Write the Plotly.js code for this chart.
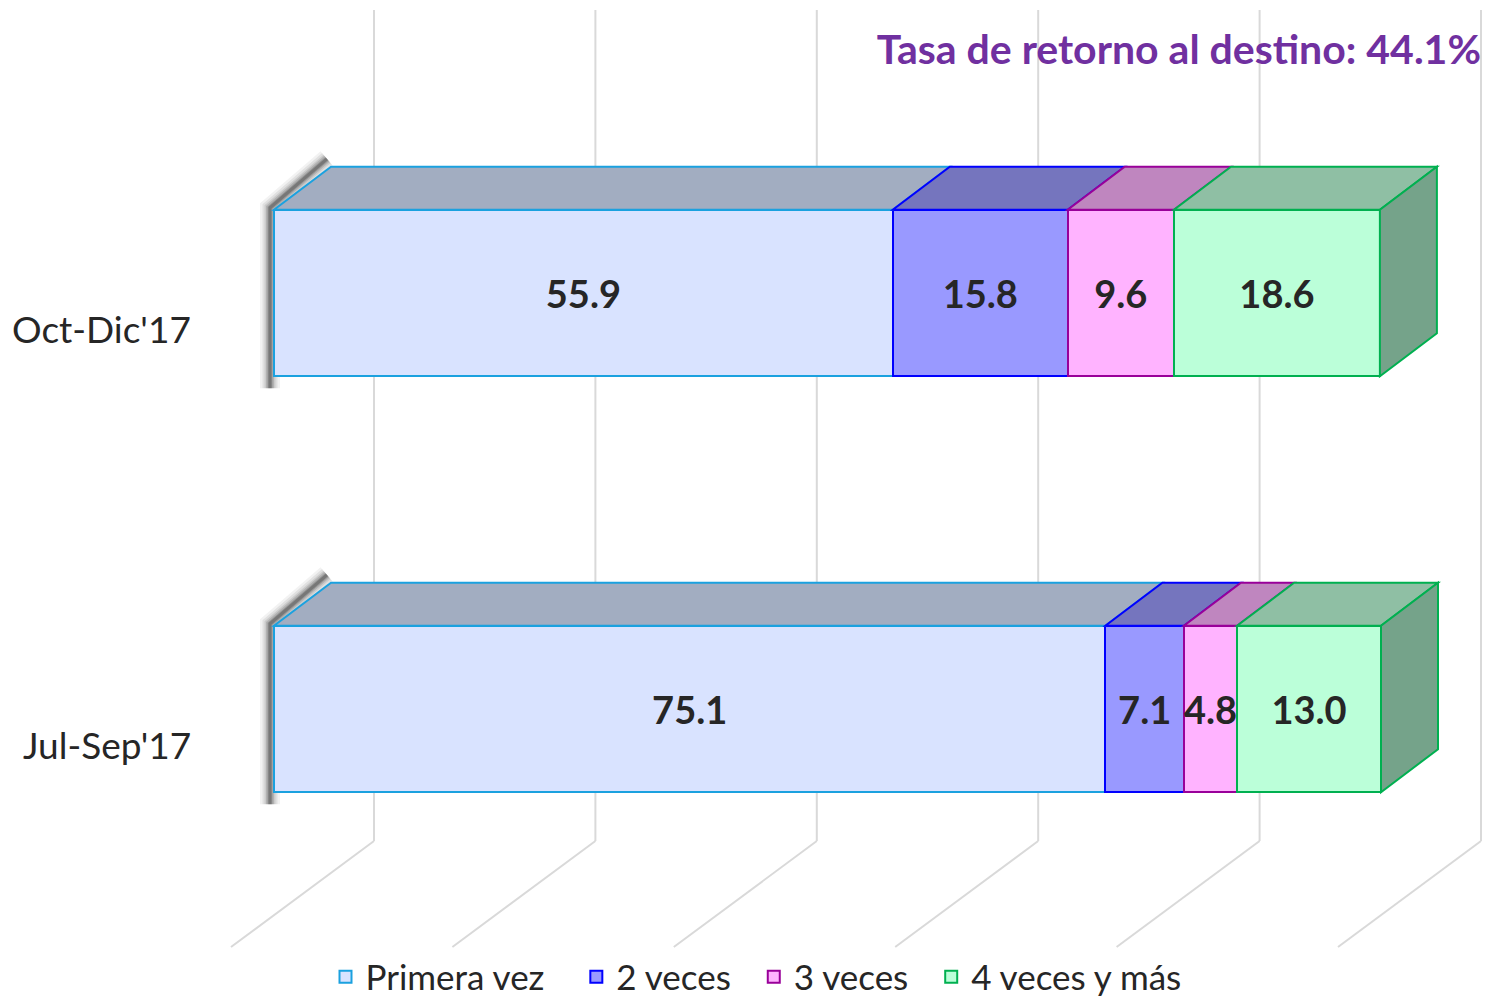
<!DOCTYPE html>
<html>
<head>
<meta charset="utf-8">
<script src="https://cdn.plot.ly/plotly-3.0.1.min.js"></script>
<style>html,body{margin:0;padding:0;background:#fff;overflow:hidden;}#chart{width:1486px;height:998px;}</style>
</head>
<body>
<div id="chart"></div>
<script>
// ---- data ----
const categories = ["Jul-Sep'17", "Oct-Dic'17"];
const seriesNames = ["Primera vez", "2 veces", "3 veces", "4 veces y más"];
const primeraVez = [75.1, 55.9];
const dosVeces = [7.1, 15.8];
const tresVeces = [4.8, 9.6];
const cuatroVeces = [13.0, 18.6];
const xTicks = [0, 20, 40, 60, 80, 100];
const titleText = "Tasa de retorno al destino: 44.1%";

// ---- styles ----
const frontColors = ["#D9E3FF", "#9999FF", "#FFB3FF", "#BBFFD9"];
const edgeColors = ["#1BA1DF", "#0000FF", "#990099", "#00B050"];
const topColors = ["#A2ADC1", "#7575BE", "#BF86BF", "#8FBFA4"];
const sideColor = "#75A38A";
const legendPad = ["\u00A0\u00A0\u00A0", "\u00A0\u00A0", "\u00A0\u00A0", ""];

const W = 1486, H = 998;
const PX_PER_X = 11.07;          // px per unit on the x axis
const X0PX = 274;                // px of value 0
const PX_PER_Y = 416;            // px per category step
const Y0PX = 709;                // px of category index 0 (center)
const xRange = [-X0PX / PX_PER_X, (W - X0PX) / PX_PER_X];
const yRange = [-(H - Y0PX) / PX_PER_Y, Y0PX / PX_PER_Y];
const dxPx = p => p / PX_PER_X;
const dyPx = p => p / PX_PER_Y;
const yOfPx = p => (Y0PX - p) / PX_PER_Y;

const BARW = 0.4;
const DX = dxPx(57), DY = dyPx(43);

const allSeries = [primeraVez, dosVeces, tresVeces, cuatroVeces];
const yIdx = categories.map((c, i) => i);

const traces = allSeries.map((vals, s) => ({
  type: 'bar', orientation: 'h', name: seriesNames[s] + legendPad[s],
  x: vals, y: yIdx,
  marker: {color: frontColors[s], line: {color: edgeColors[s], width: 2}},
  text: vals.map(v => v.toFixed(1)),
  textposition: 'inside', insidetextanchor: 'middle', textangle: 0,
  constraintext: 'none',
  textfont: {family: 'Lato', size: 38, weight: 'bold', color: '#262626'},
  hoverinfo: 'x'
}));

const shapes = [];
// back wall gridlines and floor lines
xTicks.forEach(v => {
  const bx = v + dxPx(100);
  shapes.push({type: 'line', layer: 'below', xref: 'x', yref: 'y',
    x0: bx, x1: bx, y0: yOfPx(841), y1: yOfPx(10), line: {color: '#D9D9D9', width: 2}});
  shapes.push({type: 'line', layer: 'below', xref: 'x', yref: 'y',
    x0: bx, x1: v - dxPx(43), y0: yOfPx(841), y1: yOfPx(947), line: {color: '#D9D9D9', width: 2}});
});

// 3D faces
yIdx.forEach(i => {
  const yt = i + BARW / 2, yb = i - BARW / 2;
  // soft shadow on the left side
  [[20, 0.05], [15, 0.07], [11, 0.09], [8, 0.12], [5, 0.16], [3, 0.2]].forEach(([w, op]) => {
    const o = dxPx(4);
    shapes.push({type: 'path', layer: 'below', xref: 'x', yref: 'y',
      path: `M ${DX - o},${yt + DY + dyPx(8)} L ${-o},${yt + dyPx(2)} L ${-o},${yb - dyPx(12)}`,
      line: {color: `rgba(0,0,0,${op})`, width: w}});
  });
  let acc = 0;
  allSeries.forEach((vals, s) => {
    const a = acc, b = acc + vals[i];
    shapes.push({type: 'path', layer: 'above', xref: 'x', yref: 'y',
      path: `M ${a},${yt} L ${b},${yt} L ${b + DX},${yt + DY} L ${a + DX},${yt + DY} Z`,
      fillcolor: topColors[s], line: {color: edgeColors[s], width: 2}});
    acc = b;
  });
  shapes.push({type: 'path', layer: 'above', xref: 'x', yref: 'y',
    path: `M ${acc},${yt} L ${acc + DX},${yt + DY} L ${acc + DX},${yb + DY} L ${acc},${yb} Z`,
    fillcolor: sideColor, line: {color: edgeColors[3], width: 2}});
});

const annotations = categories.map((c, i) => ({
  text: c, xref: 'paper', yref: 'y', x: 193 / W, y: i - dyPx(35),
  xanchor: 'right', yanchor: 'middle', showarrow: false,
  font: {family: 'Lato', size: 37, color: '#262626'}
}));

const layout = {
  width: W, height: H,
  margin: {l: 0, r: 0, t: 0, b: 0, autoexpand: false},
  paper_bgcolor: '#fff', plot_bgcolor: '#fff',
  barmode: 'stack', bargap: 1 - BARW,
  showlegend: true,
  title: {text: titleText, x: 1481 / W, xanchor: 'right', xref: 'paper',
    y: 1 - 50 / H, yanchor: 'middle', yref: 'paper',
    font: {family: 'Lato', size: 41, weight: 'bold', color: '#7030A0'}},
  xaxis: {range: xRange, visible: false, fixedrange: true},
  yaxis: {range: yRange, visible: false, fixedrange: true},
  legend: {orientation: 'h', x: 756 / W, xanchor: 'center', y: (H - 977) / H, yanchor: 'middle',
    traceorder: 'normal', font: {family: 'Lato', size: 35, color: '#262626'}, bgcolor: 'rgba(0,0,0,0)'},
  shapes: shapes,
  annotations: annotations
};

Plotly.newPlot('chart', traces, layout, {displayModeBar: false, staticPlot: true});
</script>
</body>
</html>
